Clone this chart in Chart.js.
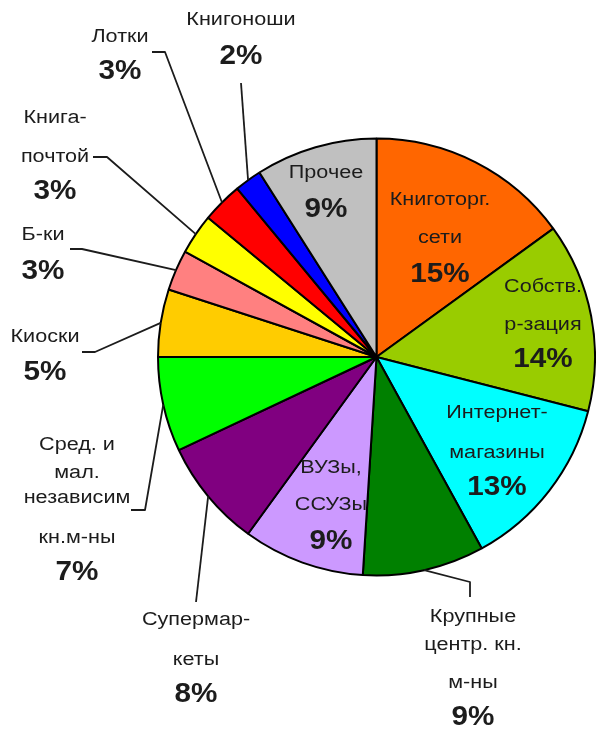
<!DOCTYPE html>
<html>
<head>
<meta charset="utf-8">
<script src="https://cdn.jsdelivr.net/npm/chart.js@4"></script>
<style>
  html, body { margin: 0; padding: 0; background: #ffffff; }
  #wrap { width: 596px; height: 729px; position: relative; }
</style>
</head>
<body>
<div id="wrap"><canvas id="c" width="596" height="729"></canvas></div>
<script>
// ---- data ----
const categories = [
  'Книготорг. сети', 'Собств. р-зация', 'Интернет-магазины', 'Крупные центр. кн. м-ны',
  'ВУЗы, ССУЗы', 'Супермаркеты', 'Сред. и мал. независим кн.м-ны', 'Киоски',
  'Б-ки', 'Книга-почтой', 'Лотки', 'Книгоноши', 'Прочее'
];
const shares = [15, 14, 13, 9, 9, 8, 7, 5, 3, 3, 3, 2, 9];
const labelLines = [
  ['Книготорг.', 'сети'],
  ['Собств.', 'р-зация'],
  ['Интернет-', 'магазины'],
  ['Крупные', 'центр. кн.', 'м-ны'],
  ['ВУЗы,', 'ССУЗы'],
  ['Супермар-', 'кеты'],
  ['Сред. и', 'мал.', 'независим', 'кн.м-ны'],
  ['Киоски'],
  ['Б-ки'],
  ['Книга-', 'почтой'],
  ['Лотки'],
  ['Книгоноши'],
  ['Прочее']
];

// ---- styles / layout (not data) ----
const colors = ['#FF6600', '#99CC00', '#00FFFF', '#008000', '#CC99FF', '#800080',
  '#00FF00', '#FFCC00', '#FF8080', '#FFFF00', '#FF0000', '#0000FF', '#C0C0C0'];

// each label: x center, y of each text line (last y is the percent), optional leader path
const labelLayout = [
  { x: 440, ys: [200, 238, 275] },
  { x: 543, ys: [287, 325, 360] },
  { x: 497, ys: [413, 453, 488] },
  { x: 473, ys: [617, 645, 683, 718], path: [[470, 582], [470, 597]] },
  { x: 331, ys: [468, 505, 542] },
  { x: 196, ys: [620, 660, 695], path: [[196, 602]] },
  { x: 77, ys: [445, 473, 498, 538, 573], path: [[145, 510], [131, 510]] },
  { x: 45, ys: [337, 373], path: [[95, 352], [82, 352]] },
  { x: 43, ys: [235, 272], path: [[82, 249], [70, 249]] },
  { x: 55, ys: [118, 157, 192], path: [[107, 157], [93, 157]] },
  { x: 120, ys: [37, 72], path: [[165, 52], [152, 52]] },
  { x: 241, ys: [20, 57], path: [[241, 83]] },
  { x: 326, ys: [173, 210] }
];

const NAME_FONT = '18px "Liberation Sans", Arial, sans-serif';
const PCT_FONT = 'bold 27px "Liberation Sans", Arial, sans-serif';
const NAME_SX = 1.2;
const PCT_SX = 1.1;
const TEXT_COLOR = '#1c1c1c';

function drawStretched(ctx, text, x, y, sx) {
  ctx.save();
  ctx.translate(x, y);
  ctx.scale(sx, 1);
  ctx.fillText(text, 0, 0);
  ctx.restore();
}

const labelPlugin = {
  id: 'pieLabels',
  afterDraw(chart) {
    const ctx = chart.ctx;
    const meta = chart.getDatasetMeta(0);
    ctx.save();
    // leader lines
    ctx.strokeStyle = '#1c1c1c';
    ctx.lineWidth = 1.8;
    ctx.lineJoin = 'round';
    meta.data.forEach((arc, i) => {
      const lay = labelLayout[i];
      if (!lay.path) return;
      const p = arc.getProps(['x', 'y', 'startAngle', 'endAngle', 'outerRadius'], true);
      const mid = (p.startAngle + p.endAngle) / 2;
      const sx = p.x + Math.cos(mid) * p.outerRadius;
      const sy = p.y + Math.sin(mid) * p.outerRadius;
      ctx.beginPath();
      ctx.moveTo(sx, sy);
      lay.path.forEach(pt => ctx.lineTo(pt[0], pt[1]));
      ctx.stroke();
    });
    // text
    ctx.fillStyle = TEXT_COLOR;
    ctx.textAlign = 'center';
    ctx.textBaseline = 'middle';
    labelLines.forEach((lines, i) => {
      const lay = labelLayout[i];
      ctx.font = NAME_FONT;
      lines.forEach((t, k) => drawStretched(ctx, t, lay.x, lay.ys[k], NAME_SX));
      ctx.font = PCT_FONT;
      drawStretched(ctx, shares[i] + '%', lay.x, lay.ys[lines.length], PCT_SX);
    });
    ctx.restore();
  }
};

new Chart(document.getElementById('c'), {
  type: 'pie',
  data: {
    labels: categories,
    datasets: [{
      data: shares,
      backgroundColor: colors,
      borderColor: '#000000',
      borderWidth: 2,
      hoverOffset: 0
    }]
  },
  options: {
    responsive: false,
    animation: false,
    layout: { padding: { left: 157, right: 0, top: 137, bottom: 152 } },
    plugins: { legend: { display: false }, tooltip: { enabled: false } }
  },
  plugins: [labelPlugin]
});
</script>
</body>
</html>
